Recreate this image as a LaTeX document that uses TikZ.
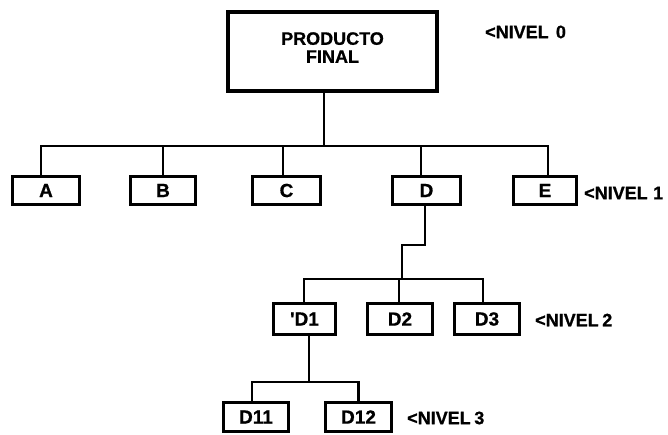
\documentclass[tikz,border=0pt]{standalone}
\usepackage{fontspec}
\setmainfont{Liberation Sans}
\newfontfamily\heavy{Liberation Sans}[BoldFeatures={FakeBold=0.8}]
\begin{document}
\begin{tikzpicture}[x=1pt,y=-1pt,
  box/.style={draw, line width=2.6pt, inner sep=0pt,
    font=\fontsize{19}{19}\heavy\bfseries},
  lvA/.style={box, minimum height=28.5pt},
  lvB/.style={box, minimum height=31.5pt},
  lvC/.style={box, minimum height=29.5pt},
  lvl/.style={font=\fontsize{18}{18}\heavy\bfseries, anchor=west, inner sep=0pt},
  conn/.style={line width=2.4pt}]
\useasboundingbox (0,0) rectangle (668,434);

% top box
\node[draw, line width=4pt, minimum width=209pt, minimum height=79pt, inner sep=0pt,
  align=center, text depth=8pt, font=\fontsize{18}{18}\heavy\bfseries]
  (top) at (332.5,51.5) {PRODUCTO\\FINAL};

% level 1
\node[lvA, minimum width=67.5pt] (A) at (46,190.5) {A};
\node[lvA, minimum width=65.5pt] (B) at (163,190.5) {B};
\node[lvA, minimum width=68.5pt] (C) at (286.5,190.5) {C};
\node[lvA, minimum width=68.5pt] (D) at (426.5,190.5) {D};
\node[lvA, minimum width=63.5pt] (E) at (545,190.5) {E};

% level 2
\node[lvB, minimum width=62.5pt] (D1) at (304.5,319) {\symbol{39}D1};
\node[lvB, minimum width=65.5pt] (D2) at (400,319) {D2};
\node[lvB, minimum width=65.5pt] (D3) at (487,319) {D3};

% level 3
\node[lvC, minimum width=65.5pt] (D11) at (256,417) {D11};
\node[lvC, minimum width=66.5pt] (D12) at (358.5,417) {D12};

% level labels
\node[lvl] (n0) at (485,32) {<NIVEL\hspace{0.4em}0};
\node[lvl] (n1) at (584,193) {<NIVEL\hspace{0.3em}1};
\node[lvl] (n2) at (535,320) {<NIVEL\hspace{0.2em}2};
\node[lvl] (n3) at (407,418) {<NIVEL\hspace{0.2em}3};

% connectors
\coordinate (b1) at (0,146);
\coordinate (b2) at (0,279);
\coordinate (b3) at (0,382);
\coordinate (k) at (402,245);

\draw[conn] ([xshift=-8.5pt]top.south) -- ([xshift=-8.5pt]top.south |- b1);
\draw[conn] ([xshift=-5pt]A.north) |- ([xshift=3pt]E.north |- b1) -- ([xshift=3pt]E.north);
\draw[conn] (B.north) -- (B.north |- b1);
\draw[conn] ([xshift=-3.5pt]C.north) -- ([xshift=-3.5pt]C.north |- b1);
\draw[conn] ([xshift=-5.5pt]D.north) -- ([xshift=-5.5pt]D.north |- b1);

\draw[conn] ([xshift=-1.5pt]D.south) |- (k) -- (k |- b2);
\draw[conn] ([xshift=-0.5pt]D1.north) |- ([xshift=-4pt]D3.north |- b2) -- ([xshift=-4pt]D3.north);
\draw[conn] ([xshift=-1pt]D2.north) -- ([xshift=-1pt]D2.north |- b2);

\draw[conn] ([xshift=4.5pt]D1.south) -- ([xshift=4.5pt]D1.south |- b3);
\draw[conn] ([xshift=-4pt]D11.north) |- (D12.north |- b3) -- (D12.north);
\end{tikzpicture}
\end{document}
